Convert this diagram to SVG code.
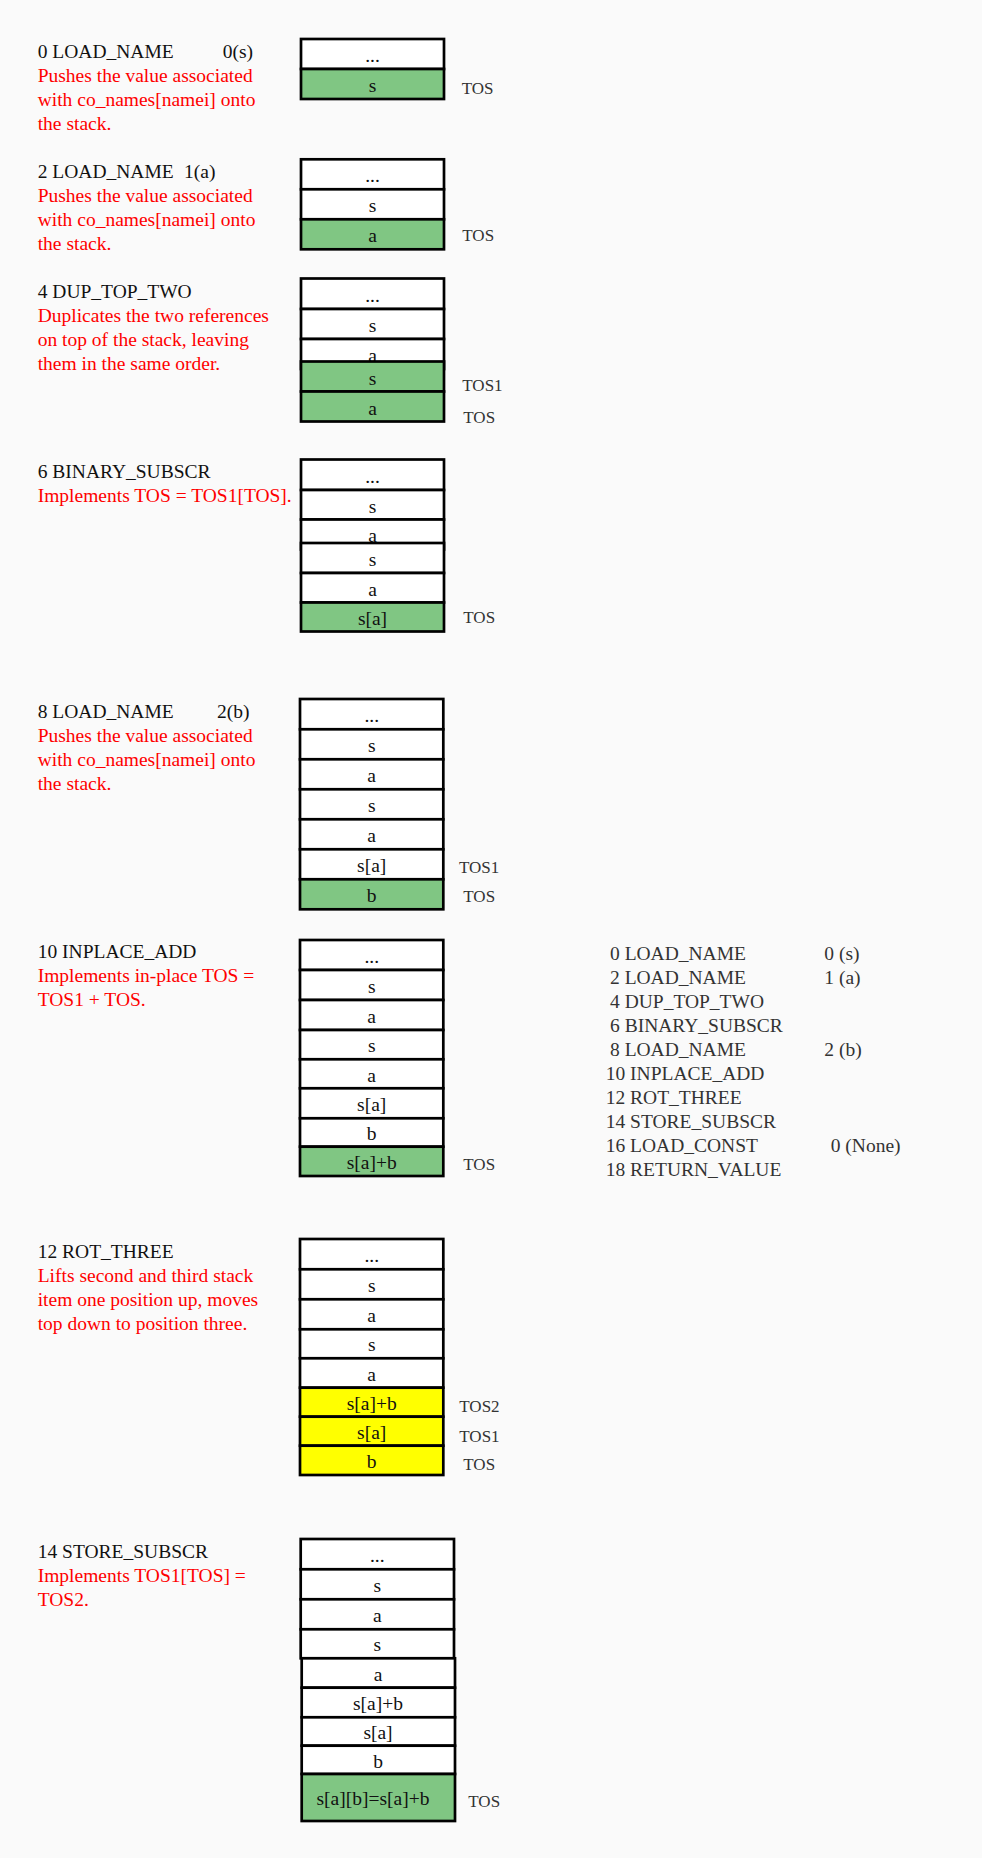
<svg xmlns="http://www.w3.org/2000/svg" width="982" height="1858" viewBox="0 0 982 1858">
<style>
.bg{fill:#fafafa}
text{font-family:"Liberation Serif","Times New Roman",serif;font-size:19.5px}
.t{fill:#111}
.d{fill:#ff0000}
.c{text-anchor:middle;fill:#111}
.lb{fill:#333;font-size:17px}
.ls{fill:#333}
.w{fill:#ffffff;stroke:#000;stroke-width:2.7}
.g{fill:#80c683;stroke:#000;stroke-width:2.7}
.y{fill:#ffff00;stroke:#000;stroke-width:2.7}
</style>
<rect class="bg" x="0" y="0" width="982" height="1858"/>

<g id="step0">
<text class="t" x="37.7" y="57.7">0 LOAD_NAME</text>
<text class="t" x="222.7" y="57.7">0(s)</text>
<text class="d" x="37.7" y="81.7">Pushes the value associated</text>
<text class="d" x="37.7" y="105.7">with co_names[namei] onto</text>
<text class="d" x="37.7" y="129.7">the stack.</text>
<rect class="w" x="301" y="39" width="143" height="30"/><text class="c" x="372.5" y="62">...</text>
<rect class="g" x="301" y="69" width="143" height="30"/><text class="c" x="372.5" y="92.3">s</text>
<text class="lb" x="461.7" y="94">TOS</text>
</g>

<g id="step2">
<text class="t" x="37.7" y="178.3">2 LOAD_NAME</text>
<text class="t" x="184" y="178.3">1(a)</text>
<text class="d" x="37.7" y="202.3">Pushes the value associated</text>
<text class="d" x="37.7" y="226.3">with co_names[namei] onto</text>
<text class="d" x="37.7" y="250.3">the stack.</text>
<rect class="w" x="301" y="159.3" width="143" height="30"/><text class="c" x="372.5" y="182.3">...</text>
<rect class="w" x="301" y="189.3" width="143" height="30"/><text class="c" x="372.5" y="212.3">s</text>
<rect class="g" x="301" y="219.3" width="143" height="30"/><text class="c" x="372.5" y="242.3">a</text>
<text class="lb" x="462.3" y="241">TOS</text>
</g>

<g id="step4">
<text class="t" x="37.7" y="298.3">4 DUP_TOP_TWO</text>
<text class="d" x="37.7" y="322.3">Duplicates the two references</text>
<text class="d" x="37.7" y="346.3">on top of the stack, leaving</text>
<text class="d" x="37.7" y="370.3">them in the same order.</text>
<rect class="w" x="301" y="278.5" width="143" height="30.5"/><text class="c" x="372.5" y="301.5">...</text>
<rect class="w" x="301" y="309" width="143" height="30"/><text class="c" x="372.5" y="331.7">s</text>
<rect class="w" x="301" y="339" width="143" height="30"/><text class="c" x="372.5" y="361.5">a</text>
<rect class="g" x="301" y="361.5" width="143" height="30"/><text class="c" x="372.5" y="385">s</text>
<rect class="g" x="301" y="391.5" width="143" height="30"/><text class="c" x="372.5" y="415">a</text>
<text class="lb" x="462.3" y="391">TOS1</text>
<text class="lb" x="463.3" y="423.3">TOS</text>
</g>

<g id="step6">
<text class="t" x="37.7" y="478.3">6 BINARY_SUBSCR</text>
<text class="d" x="37.7" y="502">Implements TOS = TOS1[TOS].</text>
<rect class="w" x="301" y="459.5" width="143" height="30.5"/><text class="c" x="372.5" y="482.5">...</text>
<rect class="w" x="301" y="490" width="143" height="29.5"/><text class="c" x="372.5" y="512.5">s</text>
<rect class="w" x="301" y="519.5" width="143" height="30"/><text class="c" x="372.5" y="541.5">a</text>
<rect class="w" x="301" y="543" width="143" height="30"/><text class="c" x="372.5" y="565.5">s</text>
<rect class="w" x="301" y="573" width="143" height="29.5"/><text class="c" x="372.5" y="595.5">a</text>
<rect class="g" x="301" y="602.5" width="143" height="29"/><text class="c" x="372.5" y="625">s[a]</text>
<text class="lb" x="463.3" y="623.3">TOS</text>
</g>

<g id="step8">
<text class="t" x="37.7" y="717.7">8 LOAD_NAME</text>
<text class="t" x="217" y="717.7">2(b)</text>
<text class="d" x="37.7" y="741.7">Pushes the value associated</text>
<text class="d" x="37.7" y="765.7">with co_names[namei] onto</text>
<text class="d" x="37.7" y="789.7">the stack.</text>
<rect class="w" x="300" y="699" width="143.3" height="30.3"/><text class="c" x="371.7" y="722">...</text>
<rect class="w" x="300" y="729.3" width="143.3" height="30"/><text class="c" x="371.7" y="751.7">s</text>
<rect class="w" x="300" y="759.3" width="143.3" height="30"/><text class="c" x="371.7" y="781.7">a</text>
<rect class="w" x="300" y="789.3" width="143.3" height="30"/><text class="c" x="371.7" y="811.7">s</text>
<rect class="w" x="300" y="819.3" width="143.3" height="30"/><text class="c" x="371.7" y="841.7">a</text>
<rect class="w" x="300" y="849.3" width="143.3" height="30"/><text class="c" x="371.7" y="871.7">s[a]</text>
<rect class="g" x="300" y="879.3" width="143.3" height="30"/><text class="c" x="371.7" y="901.7">b</text>
<text class="lb" x="459" y="872.7">TOS1</text>
<text class="lb" x="463.3" y="901.7">TOS</text>
</g>

<g id="step10">
<text class="t" x="37.7" y="957.7">10 INPLACE_ADD</text>
<text class="d" x="37.7" y="981.7">Implements in-place TOS =</text>
<text class="d" x="37.7" y="1005.7">TOS1 + TOS.</text>
<rect class="w" x="300" y="940" width="143.3" height="30"/><text class="c" x="371.7" y="962.5">...</text>
<rect class="w" x="300" y="970" width="143.3" height="30"/><text class="c" x="371.7" y="992.5">s</text>
<rect class="w" x="300" y="1000" width="143.3" height="30"/><text class="c" x="371.7" y="1022.5">a</text>
<rect class="w" x="300" y="1030" width="143.3" height="29.3"/><text class="c" x="371.7" y="1052.2">s</text>
<rect class="w" x="300" y="1059.3" width="143.3" height="29"/><text class="c" x="371.7" y="1081.5">a</text>
<rect class="w" x="300" y="1088.3" width="143.3" height="30"/><text class="c" x="371.7" y="1110.7">s[a]</text>
<rect class="w" x="300" y="1118.3" width="143.3" height="28.4"/><text class="c" x="371.7" y="1140">b</text>
<rect class="g" x="300" y="1146.7" width="143.3" height="29.3"/><text class="c" x="371.7" y="1169.3">s[a]+b</text>
<text class="lb" x="463.3" y="1170">TOS</text>
</g>

<g id="listing">
<text class="ls" x="610" y="960">0 LOAD_NAME</text><text class="ls" x="824.3" y="960">0 (s)</text>
<text class="ls" x="610" y="984">2 LOAD_NAME</text><text class="ls" x="824.3" y="984">1 (a)</text>
<text class="ls" x="610" y="1008">4 DUP_TOP_TWO</text>
<text class="ls" x="610" y="1032">6 BINARY_SUBSCR</text>
<text class="ls" x="610" y="1056">8 LOAD_NAME</text><text class="ls" x="824.3" y="1056">2 (b)</text>
<text class="ls" x="605.7" y="1080">10 INPLACE_ADD</text>
<text class="ls" x="605.7" y="1104">12 ROT_THREE</text>
<text class="ls" x="605.7" y="1128">14 STORE_SUBSCR</text>
<text class="ls" x="605.7" y="1152">16 LOAD_CONST</text><text class="ls" x="830.7" y="1152">0 (None)</text>
<text class="ls" x="605.7" y="1176">18 RETURN_VALUE</text>
</g>

<g id="step12">
<text class="t" x="37.7" y="1257.7">12 ROT_THREE</text>
<text class="d" x="37.7" y="1281.7">Lifts second and third stack</text>
<text class="d" x="37.7" y="1305.7">item one position up, moves</text>
<text class="d" x="37.7" y="1329.7">top down to position three.</text>
<rect class="w" x="300" y="1239" width="143.3" height="30.3"/><text class="c" x="371.7" y="1262">...</text>
<rect class="w" x="300" y="1269.3" width="143.3" height="30"/><text class="c" x="371.7" y="1291.7">s</text>
<rect class="w" x="300" y="1299.3" width="143.3" height="30"/><text class="c" x="371.7" y="1321.7">a</text>
<rect class="w" x="300" y="1329.3" width="143.3" height="29"/><text class="c" x="371.7" y="1351.3">s</text>
<rect class="w" x="300" y="1358.3" width="143.3" height="29.4"/><text class="c" x="371.7" y="1380.5">a</text>
<rect class="y" x="300" y="1387.7" width="143.3" height="29"/><text class="c" x="371.7" y="1409.7">s[a]+b</text>
<rect class="y" x="300" y="1416.7" width="143.3" height="29"/><text class="c" x="371.7" y="1439.3">s[a]</text>
<rect class="y" x="300" y="1445.7" width="143.3" height="29.3"/><text class="c" x="371.7" y="1467.5">b</text>
<text class="lb" x="459.3" y="1411.7">TOS2</text>
<text class="lb" x="459.3" y="1441.7">TOS1</text>
<text class="lb" x="463.3" y="1470">TOS</text>
</g>

<g id="step14">
<text class="t" x="37.7" y="1557.7">14 STORE_SUBSCR</text>
<text class="d" x="37.7" y="1581.7">Implements TOS1[TOS] =</text>
<text class="d" x="37.7" y="1605.7">TOS2.</text>
<rect class="w" x="300.7" y="1539" width="153.3" height="30.3"/><text class="c" x="377.3" y="1562">...</text>
<rect class="w" x="300.7" y="1569.3" width="153.3" height="30"/><text class="c" x="377.3" y="1591.7">s</text>
<rect class="w" x="300.7" y="1599.3" width="153.3" height="30"/><text class="c" x="377.3" y="1621.7">a</text>
<rect class="w" x="300.7" y="1629.3" width="153.3" height="29"/><text class="c" x="377.3" y="1651.3">s</text>
<rect class="w" x="301.7" y="1658.3" width="153.3" height="29.4"/><text class="c" x="378" y="1680.5">a</text>
<rect class="w" x="301.7" y="1687.7" width="153.3" height="29.6"/><text class="c" x="378" y="1709.7">s[a]+b</text>
<rect class="w" x="301.7" y="1717.3" width="153.3" height="28.4"/><text class="c" x="378" y="1739.3">s[a]</text>
<rect class="w" x="301.7" y="1745.7" width="153.3" height="28.3"/><text class="c" x="378" y="1767.5">b</text>
<rect class="g" x="301.7" y="1774" width="153.3" height="47"/><text class="c" x="373" y="1805">s[a][b]=s[a]+b</text>
<text class="lb" x="468.3" y="1807.3">TOS</text>
</g>
</svg>
